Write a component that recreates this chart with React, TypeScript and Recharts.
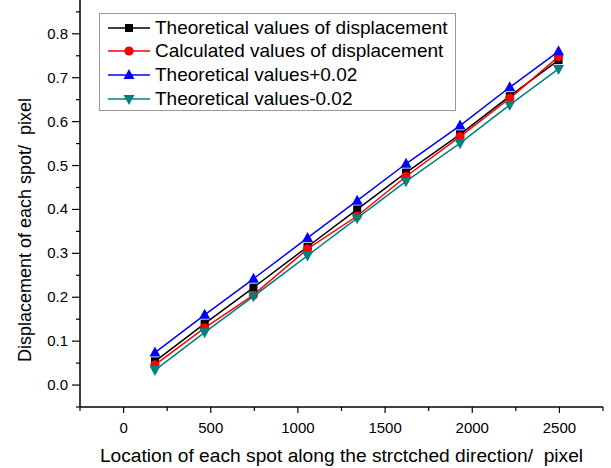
import { Legend, Line, LineChart, XAxis, YAxis } from "recharts";

const locations = [180, 465, 745, 1055, 1340, 1620, 1930, 2215, 2495];
const theoretical = [0.054, 0.14, 0.222, 0.315, 0.4, 0.484, 0.571, 0.658, 0.74];
const calculated = [0.046, 0.13, 0.205, 0.31, 0.385, 0.475, 0.566, 0.653, 0.748];
const theoreticalPlus = [0.074, 0.16, 0.242, 0.335, 0.42, 0.504, 0.591, 0.678, 0.76];
const theoreticalMinus = [0.034, 0.12, 0.202, 0.295, 0.38, 0.464, 0.551, 0.638, 0.72];

const xTicks = [-250, 0, 250, 500, 750, 1000, 1250, 1500, 1750, 2000, 2250, 2500, 2750];
const xMajor = [0, 500, 1000, 1500, 2000, 2500];
const yTicks = [-0.05, 0, 0.05, 0.1, 0.15, 0.2, 0.25, 0.3, 0.35, 0.4, 0.45, 0.5, 0.55, 0.6, 0.65, 0.7, 0.75, 0.8, 0.85];
const yMajor = [0, 0.1, 0.2, 0.3, 0.4, 0.5, 0.6, 0.7, 0.8];

const data = locations.map((x, i) => ({
  x,
  theo: theoretical[i],
  calc: calculated[i],
  plus: theoreticalPlus[i],
  minus: theoreticalMinus[i],
}));

const FONT = "Arial, 'Liberation Sans', sans-serif";

type Shape = "square" | "circle" | "up" | "down";

function Marker({ cx, cy, shape, color }: { cx: number; cy: number; shape: Shape; color: string }) {
  if (shape === "square") return <rect x={cx - 4} y={cy - 4} width={8} height={8} fill={color} />;
  if (shape === "circle") return <circle cx={cx} cy={cy} r={4.6} fill={color} />;
  if (shape === "up")
    return <polygon points={`${cx},${cy - 6} ${cx - 5.5},${cy + 4} ${cx + 5.5},${cy + 4}`} fill={color} />;
  return <polygon points={`${cx},${cy + 6} ${cx - 5.5},${cy - 4} ${cx + 5.5},${cy - 4}`} fill={color} />;
}

const dotOf = (shape: Shape, color: string) => (props: any) => (
  <Marker key={props.index} cx={props.cx} cy={props.cy} shape={shape} color={color} />
);

const series = [
  { key: "theo", label: "Theoretical values of displacement", color: "#000000", shape: "square" as Shape },
  { key: "calc", label: "Calculated values of displacement", color: "#ff0000", shape: "circle" as Shape },
  { key: "plus", label: "Theoretical values+0.02", color: "#0000ff", shape: "up" as Shape },
  { key: "minus", label: "Theoretical values-0.02", color: "#008080", shape: "down" as Shape },
];

const XTick = ({ x, y, payload }: any) => {
  const major = xMajor.includes(payload.value);
  return (
    <g>
      <line x1={x} x2={x} y1={y} y2={y + (major ? 6 : 4)} stroke="#000" strokeWidth={1.2} />
      {major && (
        <text x={x} y={y + 26} textAnchor="middle" fontSize={15} fontFamily={FONT} fill="#000">
          {payload.value}
        </text>
      )}
    </g>
  );
};

const YTick = ({ x, y, payload }: any) => {
  const major = yMajor.some((v) => Math.abs(v - payload.value) < 1e-9);
  return (
    <g>
      <line x1={x - (major ? 8 : 4)} x2={x} y1={y} y2={y} stroke="#000" strokeWidth={1.2} />
      {major && (
        <text x={x - 12} y={y + 5} textAnchor="end" fontSize={15} fontFamily={FONT} fill="#000">
          {payload.value.toFixed(1)}
        </text>
      )}
    </g>
  );
};

const LegendBox = () => (
  <div
    style={{
      border: "1px solid #999",
      background: "#fff",
      boxSizing: "border-box",
      height: 98,
      padding: "2px 0 0 7px",
      fontFamily: FONT,
      fontSize: 19,
      color: "#000",
      whiteSpace: "nowrap",
    }}
  >
    {series.map((s) => (
      <div key={s.key} style={{ display: "flex", alignItems: "center", height: 23.6 }}>
        <svg width={48} height={16} style={{ flex: "none" }}>
          <line x1={1} x2={43} y1={8} y2={8} stroke={s.color} strokeWidth={1.5} />
          <Marker cx={22} cy={8} shape={s.shape} color={s.color} />
        </svg>
        <span>{s.label}</span>
      </div>
    ))}
  </div>
);

export default function App() {
  return (
    <div style={{ position: "absolute", left: 0, top: 0, background: "#fff" }}>
      <LineChart width={611} height={468} data={data} margin={{ top: 0, right: 8, bottom: 0, left: 0 }}>
        <XAxis
          type="number"
          dataKey="x"
          domain={[-250, 2750]}
          ticks={xTicks}
          tick={XTick}
          tickLine={false}
          tickSize={0}
          tickMargin={0}
          interval={0}
          height={61}
          allowDataOverflow
          axisLine={{ stroke: "#000", strokeWidth: 1.5 }}
          label={{
            content: ({ viewBox }: any) => (
              <text
                x={viewBox.x + viewBox.width / 2}
                y={viewBox.y + 55}
                textAnchor="middle"
                fontSize={19.2}
                fontFamily={FONT}
                fill="#000"
                style={{ whiteSpace: "pre" }}
              >
                {"Location of each spot along the strctched direction/  pixel"}
              </text>
            ),
          }}
        />
        <YAxis
          type="number"
          domain={[-0.05, 0.877]}
          ticks={yTicks}
          tick={YTick}
          tickLine={false}
          tickSize={0}
          tickMargin={0}
          interval={0}
          width={80}
          allowDataOverflow
          axisLine={{ stroke: "#000", strokeWidth: 1.5 }}
          label={{
            content: () => (
              <text
                x={25}
                y={230}
                transform="rotate(-90, 25, 230)"
                textAnchor="middle"
                dominantBaseline="central"
                fontSize={18}
                fontFamily={FONT}
                fill="#000"
                style={{ whiteSpace: "pre" }}
              >
                {"Displacement of each spot/  pixel"}
              </text>
            ),
          }}
        />
        <Legend
          layout="vertical"
          align="center"
          verticalAlign="middle"
          content={<LegendBox />}
          wrapperStyle={{ left: 99, top: 13, width: 357, height: 98 }}
        />
        {series.map((s) => (
          <Line
            key={s.key}
            type="linear"
            dataKey={s.key}
            name={s.label}
            stroke={s.color}
            strokeWidth={1.5}
            dot={dotOf(s.shape, s.color)}
            activeDot={false}
            isAnimationActive={false}
          />
        ))}
      </LineChart>
    </div>
  );
}
